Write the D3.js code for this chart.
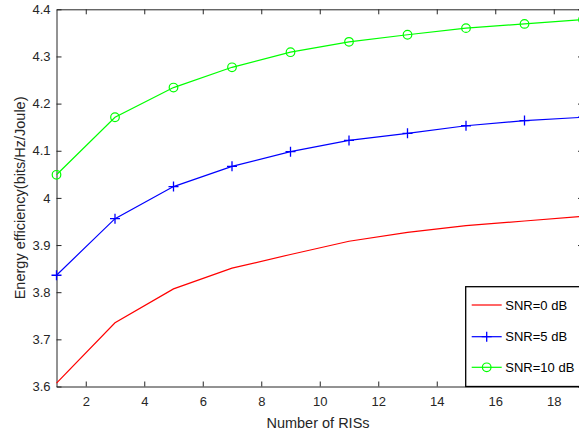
<!DOCTYPE html>
<html>
<head>
<meta charset="utf-8">
<script src="https://cdn.jsdelivr.net/npm/d3@7"></script>
<style>
  html, body { margin: 0; padding: 0; background: #fff; overflow: hidden; }
  svg { display: block; }
</style>
</head>
<body>
<svg id="chart" width="579" height="431"></svg>
<script>
const xValues = [1, 3, 5, 7, 9, 11, 13, 15, 17, 19];
const snr0 = [3.607, 3.735, 3.807, 3.851, 3.880, 3.908, 3.927, 3.941, 3.951, 3.961];
const snr5 = [3.836, 3.956, 4.024, 4.067, 4.098, 4.122, 4.137, 4.153, 4.164, 4.171];
const snr10 = [4.049, 4.171, 4.234, 4.277, 4.309, 4.331, 4.346, 4.360, 4.369, 4.378];
const seriesNames = ["SNR=0 dB", "SNR=5 dB", "SNR=10 dB"];
const xTicks = [2, 4, 6, 8, 10, 12, 14, 16, 18];
const yTicks = [3.6, 3.7, 3.8, 3.9, 4.0, 4.1, 4.2, 4.3, 4.4];
const xLabel = "Number of RISs";
const yLabel = "Energy efficiency(bits/Hz/Joule)";

const series = [
  { name: seriesNames[0], values: snr0, color: "#ff0000", marker: "none" },
  { name: seriesNames[1], values: snr5, color: "#0000ff", marker: "plus" },
  { name: seriesNames[2], values: snr10, color: "#00ff00", marker: "circle" }
];

const svg = d3.select("#chart");
const L = 56.5, R = 583, T = 9.3, B = 386.5;
const axisColor = "#262626";
const font = "'Liberation Sans', Arial, Helvetica, sans-serif";

const x = d3.scaleLinear().domain([1, 19]).range([L, R]);
const y = d3.scaleLinear().domain([3.6, 4.4]).range([B, T]);

const fmtY = v => (Math.abs(v - 4) < 1e-9 ? "4" : d3.format(".1f")(v));

// axes
const gBottom = svg.append("g").attr("transform", `translate(0,${B})`)
  .call(d3.axisBottom(x).tickValues(xTicks).tickSizeInner(-5).tickSizeOuter(0).tickPadding(10));
const gTop = svg.append("g").attr("transform", `translate(0,${T})`)
  .call(d3.axisTop(x).tickValues(xTicks).tickSizeInner(-5).tickSizeOuter(0).tickFormat(""));
const gLeft = svg.append("g").attr("transform", `translate(${L},0)`)
  .call(d3.axisLeft(y).tickValues(yTicks).tickSizeInner(-5).tickSizeOuter(0).tickPadding(6).tickFormat(fmtY));
const gRight = svg.append("g").attr("transform", `translate(${R},0)`)
  .call(d3.axisRight(y).tickValues(yTicks).tickSizeInner(-5).tickSizeOuter(0).tickFormat(""));

[gBottom, gTop, gLeft, gRight].forEach(g => {
  g.select(".domain").attr("stroke", axisColor).attr("stroke-width", 1);
  g.selectAll(".tick line").attr("stroke", axisColor).attr("stroke-width", 1);
  g.selectAll(".tick text").attr("fill", axisColor).style("font-family", font).style("font-size", "13px");
});

// line clip
svg.append("clipPath").attr("id", "clip").append("rect")
  .attr("x", L).attr("y", T).attr("width", R - L).attr("height", B - T);

const line = d3.line().x((d, i) => x(xValues[i])).y(d => y(d));
const plot = svg.append("g");

series.forEach(s => {
  plot.append("path").datum(s.values)
    .attr("d", line).attr("fill", "none")
    .attr("stroke", s.color).attr("stroke-width", 1.2);
  if (s.marker === "circle") {
    plot.selectAll(null).data(s.values).enter().append("circle")
      .attr("cx", (d, i) => x(xValues[i])).attr("cy", d => y(d)).attr("r", 4.3)
      .attr("fill", "none").attr("stroke", s.color).attr("stroke-width", 1.2);
  } else if (s.marker === "plus") {
    plot.selectAll(null).data(s.values).enter().append("path")
      .attr("d", (d, i) => {
        const cx = x(xValues[i]), cy = y(d), a = 5;
        return `M${cx - a},${cy}H${cx + a}M${cx},${cy - a}V${cy + a}`;
      })
      .attr("fill", "none").attr("stroke", s.color).attr("stroke-width", 1.3);
  }
});

// axis labels
svg.append("text").attr("x", 318).attr("y", 427.5).attr("text-anchor", "middle")
  .attr("fill", axisColor).style("font-family", font).style("font-size", "14.5px").text(xLabel);
svg.append("text").attr("transform", `translate(24.5,${(T + B) / 2}) rotate(-90)`)
  .attr("text-anchor", "middle").attr("fill", axisColor)
  .style("font-family", font).style("font-size", "14.5px").text(yLabel);

// legend
const lg = svg.append("g");
lg.append("rect").attr("x", 465.7).attr("y", 286.7).attr("width", 130).attr("height", B - 286.7)
  .attr("fill", "#fff").attr("stroke", "#000").attr("stroke-width", 1.3);
const rowsY = [305, 336.7, 367.3];
series.forEach((s, i) => {
  const ry = rowsY[i];
  lg.append("line").attr("x1", 471.7).attr("x2", 501.7).attr("y1", ry).attr("y2", ry)
    .attr("stroke", s.color).attr("stroke-width", 1.2);
  if (s.marker === "circle") {
    lg.append("circle").attr("cx", 486.7).attr("cy", ry).attr("r", 4.3)
      .attr("fill", "none").attr("stroke", s.color).attr("stroke-width", 1.2);
  } else if (s.marker === "plus") {
    lg.append("path").attr("d", `M481.7,${ry}H491.7M486.7,${ry - 5}V${ry + 5}`)
      .attr("stroke", s.color).attr("stroke-width", 1.3);
  }
  lg.append("text").attr("x", 505.3).attr("y", ry).attr("dy", "0.35em")
    .attr("fill", "#000").style("font-family", font).style("font-size", "13px").text(s.name);
});
</script>
</body>
</html>
